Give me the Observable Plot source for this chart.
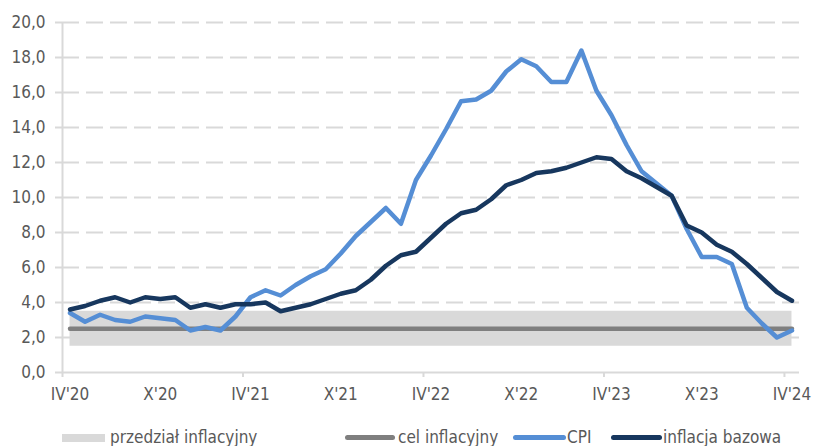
<!DOCTYPE html>
<html><head><meta charset="utf-8">
<script src="https://cdn.jsdelivr.net/npm/d3@7"></script>
<script src="https://cdn.jsdelivr.net/npm/@observablehq/plot@0.6"></script>
<style>
html,body{margin:0;padding:0;background:#fff;}
#wrap{position:relative;width:814px;height:446px;overflow:hidden;font-family:"Liberation Sans Narrow","DejaVu Sans Condensed",sans-serif;}
#legend{position:absolute;left:0;top:420px;width:814px;height:26px;}
.sw{position:absolute;}
.lt{position:absolute;font-size:17px;line-height:17px;color:#595959;white-space:nowrap;}
</style></head><body><div id="wrap"><div id="chart"></div><div id="legend"></div></div>
<script>
// Monthly data, April 2020 .. April 2024 (49 months)
const months = [
  "2020-04","2020-05","2020-06","2020-07","2020-08","2020-09","2020-10","2020-11","2020-12",
  "2021-01","2021-02","2021-03","2021-04","2021-05","2021-06","2021-07","2021-08","2021-09","2021-10","2021-11","2021-12",
  "2022-01","2022-02","2022-03","2022-04","2022-05","2022-06","2022-07","2022-08","2022-09","2022-10","2022-11","2022-12",
  "2023-01","2023-02","2023-03","2023-04","2023-05","2023-06","2023-07","2023-08","2023-09","2023-10","2023-11","2023-12",
  "2024-01","2024-02","2024-03","2024-04"
];
const cpi = [
  3.4, 2.9, 3.3, 3.0, 2.9, 3.2, 3.1, 3.0, 2.4,
  2.6, 2.4, 3.2, 4.3, 4.7, 4.4, 5.0, 5.5, 5.9, 6.8, 7.8, 8.6,
  9.4, 8.5, 11.0, 12.4, 13.9, 15.5, 15.6, 16.1, 17.2, 17.9, 17.5, 16.6,
  16.6, 18.4, 16.1, 14.7, 13.0, 11.5, 10.8, 10.1, 8.2, 6.6, 6.6, 6.2,
  3.7, 2.8, 2.0, 2.4
];
const core = [
  3.6, 3.8, 4.1, 4.3, 4.0, 4.3, 4.2, 4.3, 3.7,
  3.9, 3.7, 3.9, 3.9, 4.0, 3.5, 3.7, 3.9, 4.2, 4.5, 4.7, 5.3,
  6.1, 6.7, 6.9, 7.7, 8.5, 9.1, 9.3, 9.9, 10.7, 11.0, 11.4, 11.5,
  11.7, 12.0, 12.3, 12.2, 11.5, 11.1, 10.6, 10.1, 8.4, 8.0, 7.3, 6.9,
  6.2, 5.4, 4.6, 4.1
];
const target = 2.5;
const bandLow = 1.5;
const bandHigh = 3.5;
const tickLabels = ["IV'20","X'20","IV'21","X'21","IV'22","X'22","IV'23","X'23","IV'24"];
const tickMonths = ["2020-04","2020-10","2021-04","2021-10","2022-04","2022-10","2023-04","2023-10","2024-04"];
const yTicks = [0,2,4,6,8,10,12,14,16,18,20];
const legendLabels = ["przedział inflacyjny","cel inflacyjny","CPI","inflacja bazowa"];

const C_CPI = "#558ed5", C_CORE = "#17375e", C_TARGET = "#7f7f7f", C_BAND = "#d9d9d9", C_GRID = "#d9d9d9", C_TEXT = "#595959";

const data = months.map((m, i) => ({m, i, cpi: cpi[i], core: core[i]}));
const xc = d => d.i + 0.5; // category centre
const labelPos = tickMonths.map(m => months.indexOf(m) + 0.5);
const labelMap = new Map(labelPos.map((p, k) => [p, tickLabels[k]]));
const majorTicks = tickMonths.filter((m, k) => k % 2 === 0).map(m => months.indexOf(m));

const chart = Plot.plot({
  width: 814, height: 420,
  marginLeft: 62, marginRight: 15, marginTop: 22, marginBottom: 48,
  style: {fontFamily: '"Liberation Sans Narrow","DejaVu Sans Condensed",sans-serif', fontSize: "17px", background: "#fff"},
  x: {type: "linear", domain: [0, months.length], axis: null},
  y: {domain: [0, 20], axis: null},
  marks: [
    Plot.ruleY(yTicks.filter(v => v > 0), {stroke: C_GRID, strokeWidth: 2, strokeDasharray: "17,7"}),
    Plot.areaY(data, {x: xc, y1: () => bandLow, y2: () => bandHigh, fill: C_BAND}),
    Plot.lineY(data, {x: xc, y: () => target, stroke: C_TARGET, strokeWidth: 4.5}),
    Plot.ruleX([0], {stroke: C_GRID, strokeWidth: 2}),
    Plot.ruleY([0], {stroke: C_GRID, strokeWidth: 2}),
    Plot.axisY({ticks: yTicks, tickFormat: d => d.toFixed(1).replace(".", ","), tickSize: 7, tickPadding: 10, stroke: C_GRID, strokeWidth: 2, fill: C_TEXT, label: null, fontSize: 17}),
    Plot.axisX({ticks: majorTicks, tickFormat: () => "", tickSize: 5, stroke: C_GRID, strokeWidth: 2, label: null}),
    Plot.axisX({ticks: labelPos, tickFormat: d => labelMap.get(d), tickSize: 0, tickPadding: 15, fill: C_TEXT, label: null, fontSize: 17}),
    Plot.lineY(data, {x: xc, y: "cpi", stroke: C_CPI, strokeWidth: 4.5, strokeLinecap: "round", strokeLinejoin: "round"}),
    Plot.lineY(data, {x: xc, y: "core", stroke: C_CORE, strokeWidth: 4.5, strokeLinecap: "round", strokeLinejoin: "round"})
  ]
});
document.getElementById("chart").appendChild(chart);

// Legend (HTML, below the SVG)
const lg = document.getElementById("legend");
const items = [
  {label: legendLabels[0], kind: "box", color: C_BAND, sx: 62, sw: 43, tx: 110},
  {label: legendLabels[1], kind: "line", color: C_TARGET, sx: 345, sw: 50, tx: 398},
  {label: legendLabels[2], kind: "line", color: C_CPI, sx: 513, sw: 53, tx: 567},
  {label: legendLabels[3], kind: "line", color: C_CORE, sx: 611, sw: 51, tx: 663}
];
for (const it of items) {
  const s = document.createElement("div");
  s.className = "sw";
  s.style.left = it.sx + "px";
  s.style.width = it.sw + "px";
  s.style.background = it.color;
  if (it.kind === "box") { s.style.top = "14px"; s.style.height = "8px"; }
  else { s.style.top = "15px"; s.style.height = "5px"; s.style.borderRadius = "3px"; }
  lg.appendChild(s);
  const t = document.createElement("div");
  t.className = "lt";
  t.style.left = it.tx + "px";
  t.style.top = "9px";
  t.textContent = it.label;
  lg.appendChild(t);
}
</script></body></html>
